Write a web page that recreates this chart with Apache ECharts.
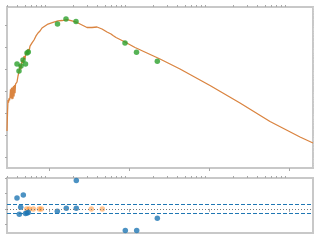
<!DOCTYPE html>
<html><head><meta charset="utf-8">
<script src="https://cdn.jsdelivr.net/npm/echarts@6/dist/echarts.min.js"></script>
<style>html,body{margin:0;padding:0;background:#fff}#c{width:320px;height:240px}</style>
</head><body><div id="c"></div>
<script>
// Model spectrum (wavelength, flux)
const modelWave = [0.2985,0.3030,0.3072,0.3117,0.3162,0.3208,0.3255,0.3302,0.3350,0.3399,0.3448,0.3498,0.3548,0.3600,0.3652,0.3705,0.3758,0.3813,0.3868,0.3981,0.4097,0.4217,0.4340,0.4467,0.4597,0.4732,0.4870,0.5012,0.5158,0.5309,0.5464,0.5623,0.5788,0.5957,0.6131,0.6310,0.6494,0.6683,0.6879,0.7286,0.7720,0.8175,0.8913,0.9716,1.122,1.296,1.454,1.679,1.939,2.239,2.585,2.985,3.448,3.981,4.597,5.309,5.957,6.310,6.879,8.913,11.89,24.41,43.40,102.9,244.1,578.8,1373,1995];
const modelFlux = [1.64e-14,1.2e-13,4.20e-13,3.2e-13,5.0e-13,4.0e-13,5.74e-13,1.3e-12,5.0e-13,1.5e-12,4.6e-13,1.6e-12,4.8e-13,1.8e-12,6.0e-13,2.0e-12,8.5e-13,2.2e-12,1.9e-12,2.76e-12,5.17e-12,7.85e-12,1.64e-11,1.05e-11,2.76e-11,2.0e-11,4.20e-11,3.0e-11,6.38e-11,4.8e-11,8.73e-11,6.6e-11,1.19e-10,1.0e-10,1.64e-10,1.40e-10,2.24e-10,1.95e-10,3.41e-10,4.66e-10,5.74e-10,7.85e-10,9.69e-10,1.19e-9,1.40e-9,1.64e-9,1.72e-9,1.91e-9,1.64e-9,1.40e-9,1.08e-9,8.28e-10,8.28e-10,8.73e-10,7.08e-10,5.17e-10,4.20e-10,3.59e-10,2.91e-10,1.82e-10,1.02e-10,3.06e-11,1.08e-11,1.91e-12,3.06e-13,4.42e-14,8.73e-15,4.66e-15];
// Observed photometry
const photWave = [0.3981,0.4217,0.4467,0.4732,0.5085,0.5309,0.5511,1.277,1.631,2.175,8.913,12.41,22.59];
const photFlux = [1.82e-11,8.73e-12,1.47e-11,2.76e-11,1.82e-11,5.74e-11,6.38e-11,1.19e-9,2.02e-9,1.55e-9,1.64e-10,6.18e-11,2.41e-11];
// Residuals
const residWave = [0.3981,0.4253,0.4428,0.4773,0.5085,0.5309,0.5511,1.270,1.645,2.194,2.194,8.99,12.48,22.59];
const residVal = [0.71,-0.35,0.11,0.91,-0.30,-0.27,-0.23,-0.15,0.05,1.87,0.05,-1.42,-1.42,-0.62];
const synthWave = [0.5263,0.5673,0.6365,0.7563,0.8012,3.379,4.638];
const synthVal = [0,0,0,0,0,0,0];
const bandLevels = [0.3,-0.3];
const zeroLevel = 0;
// axis ticks
const xMajor = [1,10,100,1000];
const yMajor = [1e-15,1e-14,1e-13,1e-12,1e-11,1e-10,1e-9];
const residTicks = [-1,0,1,2];

function minorsOf(majors, lo, hi){
  const out=[];
  const first = majors[0]/10;
  const decs=[first].concat(majors);
  decs.forEach(d=>{for(let k=2;k<=9;k++){const v=d*k; if(v>=lo&&v<=hi) out.push(v);}});
  return out;
}
const XMIN=0.2985, XMAX=1995, YMIN=Math.pow(10,-15.468), YMAX=Math.pow(10,-8.15);
const xMinor = minorsOf(xMajor, XMIN, XMAX);
const yMinor = minorsOf(yMajor, YMIN, YMAX);

const tickCol='#a8a8a8';
function xAx(grid, vals, len){
  return {type:'log', gridIndex:grid, min:XMIN, max:XMAX, logBase:10,
    axisLine:{show:false}, splitLine:{show:false}, axisLabel:{show:false},
    axisTick:{show:true, customValues:vals, length:len, inside:false, lineStyle:{color:tickCol,width:1}}};
}
const chart = echarts.init(document.getElementById('c'), null, {renderer:'canvas'});
chart.setOption({
  animation:false,
  grid:[
    {left:7, top:7, width:306, height:161, show:true, borderColor:'#c8c8c8', borderWidth:2, containLabel:false},
    {left:7, top:178, width:306, height:55, show:true, borderColor:'#c8c8c8', borderWidth:2, containLabel:false}
  ],
  xAxis:[
    xAx(0, xMajor, 3), xAx(0, xMinor, 2),
    xAx(1, xMajor, 3), xAx(1, xMinor, 2)
  ],
  yAxis:[
    {type:'log', gridIndex:0, min:YMIN, max:YMAX, axisLine:{show:false}, splitLine:{show:false}, axisLabel:{show:false},
     axisTick:{show:true, customValues:yMajor, length:2, lineStyle:{color:tickCol}}},
    {type:'log', gridIndex:0, min:YMIN, max:YMAX, axisLine:{show:false}, splitLine:{show:false}, axisLabel:{show:false},
     axisTick:{show:true, customValues:yMinor, length:1, lineStyle:{color:'#d0d0d0'}}},
    {type:'value', gridIndex:1, min:-1.58, max:2.03, axisLine:{show:false}, splitLine:{show:false}, axisLabel:{show:false},
     axisTick:{show:true, customValues:residTicks, length:2, lineStyle:{color:tickCol}}}
  ],
  series:[
    {type:'line', xAxisIndex:0, yAxisIndex:0, data:modelWave.map((w,i)=>[w,modelFlux[i]]), showSymbol:false,
     lineStyle:{color:'#da8440', width:1.3}, z:2},
    {type:'scatter', xAxisIndex:0, yAxisIndex:0, data:photWave.map((w,i)=>[w,photFlux[i]]), symbolSize:5.5,
     itemStyle:{color:'#2ca02c'}, z:3},
    {type:'scatter', xAxisIndex:2, yAxisIndex:2, data:synthWave.map((w,i)=>[w,synthVal[i]]), symbolSize:5.5,
     itemStyle:{color:'#ff7f0e', opacity:0.45}, z:3},
    {type:'scatter', xAxisIndex:2, yAxisIndex:2, data:residWave.map((w,i)=>[w,residVal[i]]), symbolSize:5.5,
     itemStyle:{color:'#1f77b4'}, z:4,
     markLine:{silent:true, symbol:'none', label:{show:false},
       data:[
         {yAxis:bandLevels[0], lineStyle:{color:'#1f77b4', type:[4,2], width:1}},
         {yAxis:bandLevels[1], lineStyle:{color:'#1f77b4', type:[4,2], width:1}},
         {yAxis:zeroLevel, lineStyle:{color:'#777', type:[1,2], width:1}}
       ]}}
  ]
});
</script></body></html>
